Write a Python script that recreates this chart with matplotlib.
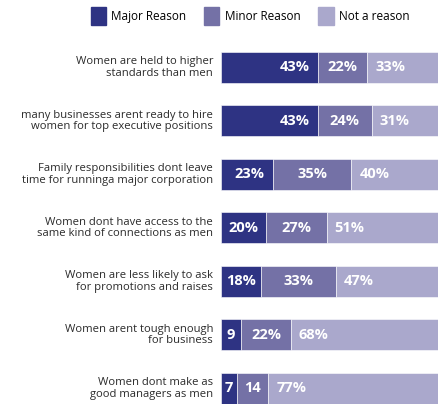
import matplotlib
matplotlib.use("Agg")
import matplotlib.pyplot as plt
from matplotlib.patches import Patch

categories = [
    "Women are held to higher\nstandards than men",
    "many businesses arent ready to hire\nwomen for top executive positions",
    "Family responsibilities dont leave\ntime for runninga major corporation",
    "Women dont have access to the\nsame kind of connections as men",
    "Women are less likely to ask\nfor promotions and raises",
    "Women arent tough enough\nfor business",
    "Women dont make as\ngood managers as men",
]
major = [43, 43, 23, 20, 18, 9, 7]
minor = [22, 24, 35, 27, 33, 22, 14]
not_reason = [33, 31, 40, 51, 47, 68, 77]
major_lbl = ["43%", "43%", "23%", "20%", "18%", "9", "7"]
minor_lbl = ["22%", "24%", "35%", "27%", "33%", "22%", "14"]
not_lbl = ["33%", "31%", "40%", "51%", "47%", "68%", "77%"]

c_major = "#2e3383"
c_minor = "#7471a6"
c_not = "#aaa8cc"
txt_font = "Open Sans"

fig = plt.figure(figsize=(4.38, 4.04), dpi=100)
ax = fig.add_axes([221 / 438, 0, 1 - 221 / 438, 359 / 404])

y = list(range(len(categories)))
h = 0.58
left2 = [a for a in major]
left3 = [a + b for a, b in zip(major, minor)]
ax.barh(y, major, height=h, color=c_major, edgecolor="white", linewidth=0.4)
ax.barh(y, minor, left=left2, height=h, color=c_minor, edgecolor="white", linewidth=0.4)
ax.barh(y, not_reason, left=left3, height=h, color=c_not, edgecolor="white", linewidth=0.4)

px = 96.5 / 217  # data units per pixel
lbl_kw = dict(color="white", fontweight="bold", fontsize=10.5, family=txt_font, va="center")
for i in y:
    if major[i] < 10:
        ax.text(major[i] / 2, i, major_lbl[i], ha="center", **lbl_kw)
    else:
        pad = 8 if major[i] > 19 else 5
        ax.text(major[i] - pad * px, i, major_lbl[i], ha="right", **lbl_kw)
    ax.text(major[i] + minor[i] / 2, i, minor_lbl[i], ha="center", **lbl_kw)
    ax.text(left3[i] + 8 * px, i, not_lbl[i], ha="left", **lbl_kw)
    ax.text(-8 * px, i, categories[i], ha="right", va="center", fontsize=8.1,
            family=txt_font, color="#2b2b2b", linespacing=1.1, clip_on=False)

ax.set_xlim(0, 96.5)
ax.set_ylim(6.29, -0.42)
ax.axis("off")

handles = [Patch(color=c_major, label="Major Reason"),
           Patch(color=c_minor, label="Minor Reason"),
           Patch(color=c_not, label="Not a reason")]
fig.legend(handles=handles, ncol=3, loc="center", bbox_to_anchor=(250 / 438, 1 - 16 / 404),
           frameon=False, handlelength=1.3, handleheight=1.9, handletextpad=0.45,
           columnspacing=1.5, prop={"family": txt_font, "size": 8.5})

fig.savefig("out.png", dpi=100)
